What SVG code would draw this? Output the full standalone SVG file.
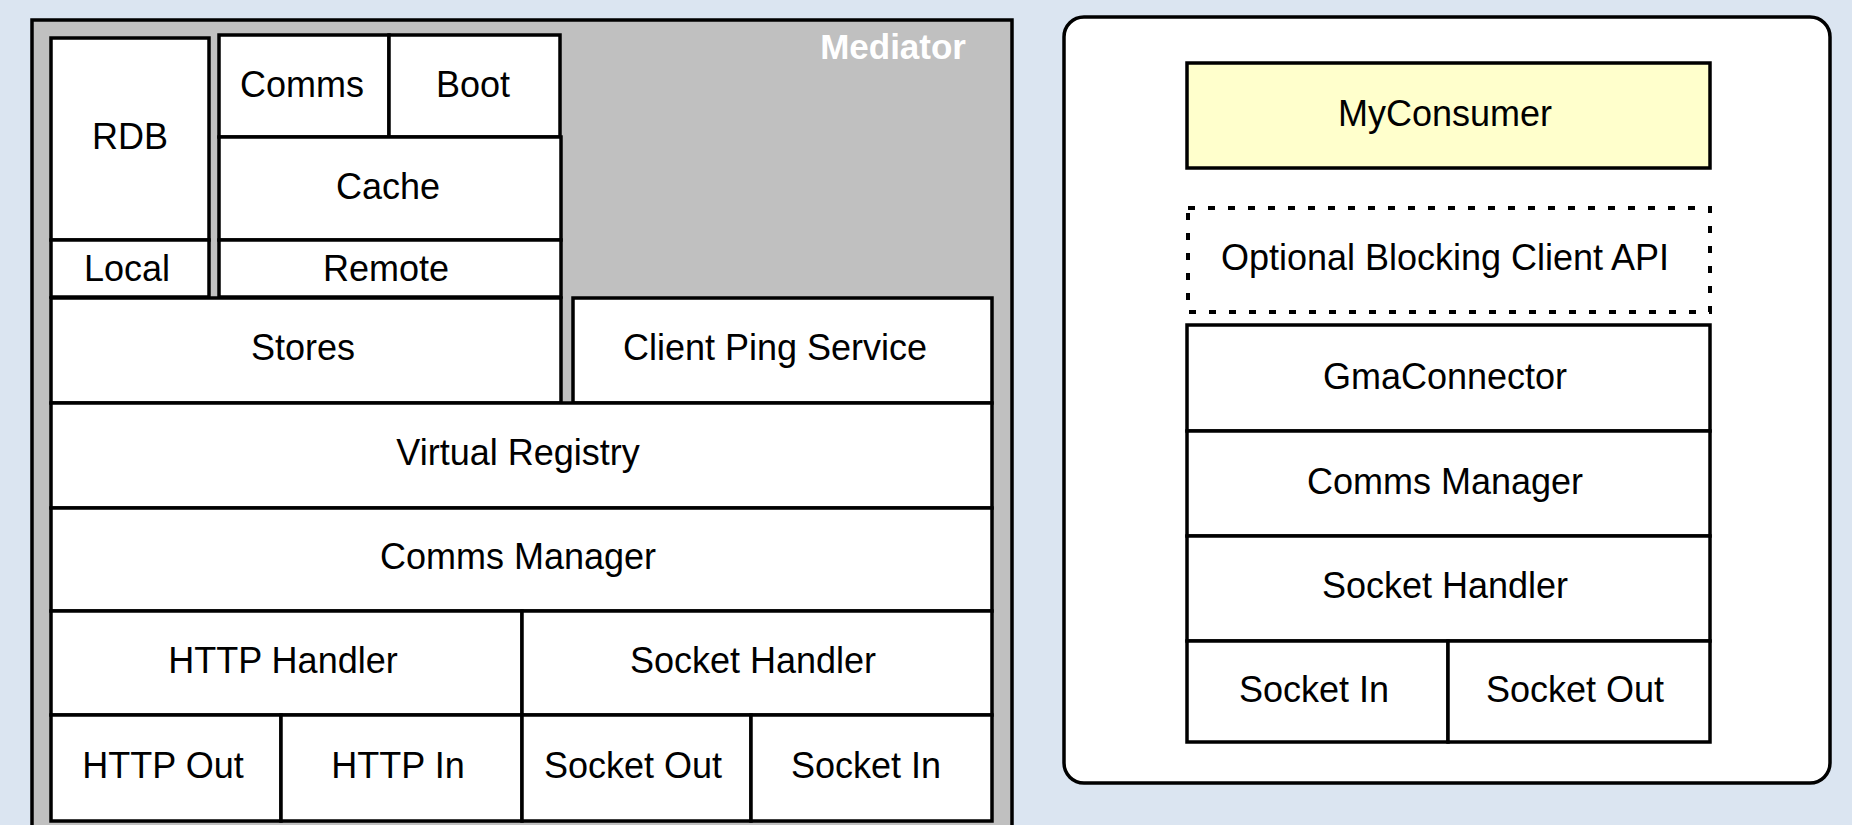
<svg xmlns="http://www.w3.org/2000/svg" width="1852" height="825" viewBox="0 0 1852 825">
<style>
.b{fill:#ffffff;stroke:#000000;stroke-width:3.5}
.t{font-family:"Liberation Sans",Arial,Helvetica,sans-serif;font-size:36px;fill:#000000;text-anchor:middle}
.y{fill:#ffffcc}
.d{fill:none;stroke:#000000;stroke-width:4;stroke-dasharray:7 13;stroke-linecap:butt}
.m{font-family:"Liberation Sans",Arial,Helvetica,sans-serif;font-size:35px;font-weight:bold;fill:#ffffff;text-anchor:end}
</style>
<rect x="0" y="0" width="1852" height="825" fill="#dbe5f1"/>
<g id="mediator">
<rect x="32" y="20" width="980" height="840" fill="#c0c0c0" stroke="#000000" stroke-width="3.5"/>
<text class="m" x="966" y="59">Mediator</text>
</g>
<g id="rdb"><rect class="b" x="51" y="38" width="158" height="202"/><text class="t" x="130" y="149">RDB</text></g>
<g id="local"><rect class="b" x="51" y="240" width="158" height="57"/><text class="t" x="127" y="281">Local</text></g>
<g id="comms"><rect class="b" x="219" y="35" width="170" height="102"/><text class="t" x="302" y="97">Comms</text></g>
<g id="boot"><rect class="b" x="389" y="35" width="171" height="102"/><text class="t" x="473" y="97">Boot</text></g>
<g id="cache"><rect class="b" x="219" y="137" width="342" height="103"/><text class="t" x="388" y="199">Cache</text></g>
<g id="remote"><rect class="b" x="219" y="240" width="342" height="57"/><text class="t" x="386" y="281">Remote</text></g>
<g id="stores"><rect class="b" x="51" y="298" width="510" height="105"/><text class="t" x="303" y="360">Stores</text></g>
<g id="client-ping"><rect class="b" x="573" y="298" width="419" height="105"/><text class="t" x="775" y="360">Client Ping Service</text></g>
<g id="virtual-registry"><rect class="b" x="51" y="403" width="941" height="105"/><text class="t" x="518" y="465">Virtual Registry</text></g>
<g id="comms-manager-m"><rect class="b" x="51" y="508" width="941" height="103"/><text class="t" x="518" y="569">Comms Manager</text></g>
<g id="http-handler"><rect class="b" x="51" y="611" width="471" height="104"/><text class="t" x="283" y="673">HTTP Handler</text></g>
<g id="socket-handler-m"><rect class="b" x="522" y="611" width="470" height="104"/><text class="t" x="753" y="673">Socket Handler</text></g>
<g id="http-out"><rect class="b" x="51" y="715" width="230" height="106"/><text class="t" x="163" y="778">HTTP Out</text></g>
<g id="http-in"><rect class="b" x="281" y="715" width="241" height="106"/><text class="t" x="398" y="778">HTTP In</text></g>
<g id="socket-out-m"><rect class="b" x="522" y="715" width="229" height="106"/><text class="t" x="633" y="778">Socket Out</text></g>
<g id="socket-in-m"><rect class="b" x="751" y="715" width="241" height="106"/><text class="t" x="866" y="778">Socket In</text></g>

<g id="client-panel"><rect class="b" x="1064" y="17" width="766" height="766" rx="20" ry="20"/></g>
<g id="myconsumer"><rect class="b y" x="1187" y="63" width="523" height="105"/><text class="t" x="1445" y="126">MyConsumer</text></g>
<g id="optional-api"><rect class="d" x="1188" y="208" width="522" height="104"/><text class="t" x="1445" y="270">Optional Blocking Client API</text></g>
<g id="gmaconnector"><rect class="b" x="1187" y="325" width="523" height="106"/><text class="t" x="1445" y="389">GmaConnector</text></g>
<g id="comms-manager-c"><rect class="b" x="1187" y="431" width="523" height="105"/><text class="t" x="1445" y="494">Comms Manager</text></g>
<g id="socket-handler-c"><rect class="b" x="1187" y="536" width="523" height="105"/><text class="t" x="1445" y="598">Socket Handler</text></g>
<g id="socket-in-c"><rect class="b" x="1187" y="641" width="261" height="101"/><text class="t" x="1314" y="702">Socket In</text></g>
<g id="socket-out-c"><rect class="b" x="1448" y="641" width="262" height="101"/><text class="t" x="1575" y="702">Socket Out</text></g>
<g id="connectors"></g>
</svg>
